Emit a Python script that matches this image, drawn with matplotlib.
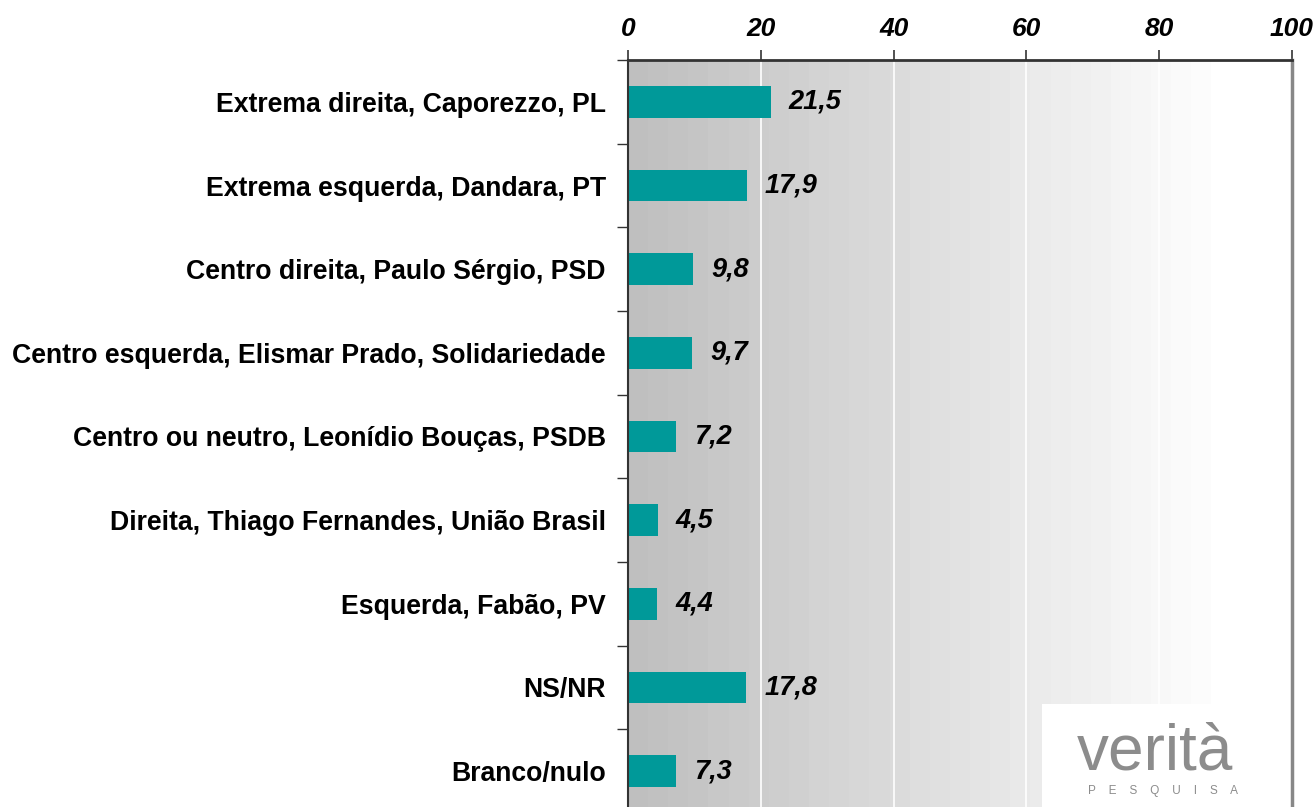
import numpy as np
import matplotlib
matplotlib.use("Agg")
import matplotlib.pyplot as plt
from matplotlib.patches import Rectangle

plt.rcParams["font.family"] = ["Liberation Sans", "DejaVu Sans"]

categories = [
    "Extrema direita, Caporezzo, PL",
    "Extrema esquerda, Dandara, PT",
    "Centro direita, Paulo Sérgio, PSD",
    "Centro esquerda, Elismar Prado, Solidariedade",
    "Centro ou neutro, Leonídio Bouças, PSDB",
    "Direita, Thiago Fernandes, União Brasil",
    "Esquerda, Fabão, PV",
    "NS/NR",
    "Branco/nulo",
]
values = [21.5, 17.9, 9.8, 9.7, 7.2, 4.5, 4.4, 17.8, 7.3]
xticks = [0, 20, 40, 60, 80, 100]

BAR_COLOR = "#009999"

fig = plt.figure(figsize=(13.16, 8.07), dpi=100)
ax = fig.add_axes([628 / 1316, 1 - 813 / 807, 664 / 1316, 753 / 807])

# gradient background, stepped like the original
steps = np.linspace(0.75, 1.0, 30)
grad = np.concatenate([steps, np.ones(3)])
img = np.dstack([grad, grad, grad]).reshape(1, -1, 3)
ax.imshow(img, extent=[0, 100, 8.5, -0.5], aspect="auto", zorder=0,
          interpolation="nearest")

for x in [20, 40, 60, 80]:
    ax.axvline(x, color="white", lw=1.2, zorder=1)

y = np.arange(len(categories))
ax.barh(y, values, height=0.38, color=BAR_COLOR, zorder=2)
for yi, v in zip(y, values):
    ax.annotate(f"{v:.1f}".replace(".", ","), (v, yi), xytext=(13, 0),
                textcoords="offset points", va="center", ha="left",
                fontsize=19.5, fontweight="bold", fontstyle="italic", zorder=3)

ax.set_xlim(0, 100)
ax.set_ylim(8.5, -0.5)
ax.xaxis.tick_top()
ax.set_xticks(xticks)
ax.set_xticklabels([str(t) for t in xticks], fontsize=19, fontweight="bold",
                   fontstyle="italic")
ax.tick_params(axis="x", direction="out", length=7, width=1.2, pad=7, color="#333333")

ax.set_yticks(y)
ax.set_yticklabels(categories, fontsize=19.2, fontweight="bold")
ax.tick_params(axis="y", which="major", length=0, pad=16)
ax.set_yticks(np.arange(-0.5, 8.6, 1), minor=True)
ax.tick_params(axis="y", which="minor", direction="out", length=8, width=1, color="#333333")

ax.spines["top"].set_color("#333333")
ax.spines["top"].set_linewidth(2)
ax.spines["left"].set_color("#333333")
ax.spines["left"].set_linewidth(1.5)
ax.spines["right"].set_color("#888888")
ax.spines["right"].set_linewidth(2.5)
ax.spines["bottom"].set_visible(False)

# logo box
fig.patches.append(Rectangle((1042 / 1316, 0), 246 / 1316, 103 / 807,
                             transform=fig.transFigure, facecolor="white",
                             edgecolor="none", zorder=5))
fig.text(1155 / 1316, 55 / 807, "verità", fontsize=46, color="#8c8c8c",
         ha="center", va="center", zorder=6)
fig.text(1163 / 1316, 16 / 807, "P    E    S    Q    U    I    S    A", fontsize=8.5,
         color="#8c8c8c", ha="center", va="center", zorder=6)

fig.savefig("out.png", dpi=100)
